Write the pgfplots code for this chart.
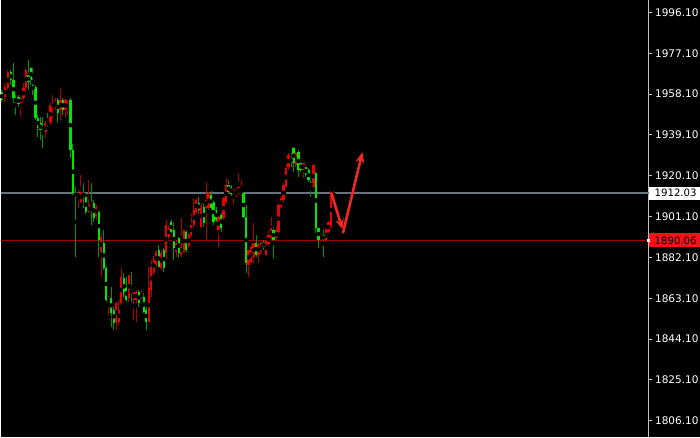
\documentclass[border=0pt]{standalone}
\usepackage{pgfplots}
\pgfplotsset{compat=1.18}
\usepackage{pgfplotstable}
\usepackage{fontspec}
\setmainfont{DejaVu Sans}
\usetikzlibrary{arrows.meta}
\definecolor{bodyG}{RGB}{0,230,0}
\definecolor{wickG}{RGB}{0,150,0}
\definecolor{bodyR}{RGB}{235,0,0}
\definecolor{wickR}{RGB}{175,0,0}
\definecolor{gridgrey}{RGB}{105,115,125}
\definecolor{lvlred}{RGB}{160,0,0}
\definecolor{axgrey}{RGB}{195,195,195}
\definecolor{arrowred}{RGB}{240,40,35}
\definecolor{boxred}{RGB}{240,20,20}

\pgfplotstableread{
x o h l c
4 1956.6 1963.1 1954.3 1961.3
7 1960.8 1969.2 1959.9 1968.2
20 1951.5 1956.6 1947.3 1954.3
22.5 1956.2 1963.1 1955.2 1960.8
25 1960.8 1970.1 1958.9 1969.2
44.5 1940.4 1945.5 1937.6 1944.5
49.5 1944.5 1953.8 1943.6 1952.9
52 1951.5 1957.5 1946.9 1954.3
54.5 1952.9 1956.2 1950.6 1954.3
59.5 1950.6 1960.8 1945.9 1955.2
64.5 1950.6 1955.7 1946.9 1955.2
67 1951.5 1955.2 1948.3 1953.8
77.5 1909.7 1913.4 1905.1 1912.0
80 1907.8 1920.4 1907.4 1912.5
88 1903.2 1918.1 1902.7 1906.4
95.5 1901.3 1906.4 1899.5 1905.5
100.5 1884.6 1893.4 1873.0 1891.6
108 1861.4 1864.6 1855.4 1863.7
115.5 1852.1 1861.4 1848.4 1860.9
118 1852.1 1862.3 1850.7 1857.7
120.5 1860.9 1877.2 1860.0 1873.0
128 1863.3 1873.9 1861.4 1873.9
133 1862.3 1866.0 1853.0 1866.0
135.5 1862.3 1867.0 1852.1 1866.0
140.5 1863.7 1867.0 1862.3 1865.6
148 1852.1 1877.6 1852.1 1867.9
150.5 1867.0 1880.9 1863.7 1877.6
153 1874.9 1882.7 1873.9 1881.8
155.5 1878.6 1885.6 1877.6 1884.6
160.5 1877.2 1885.6 1876.3 1884.1
165.5 1884.1 1899.5 1880.9 1897.2
168 1891.6 1897.2 1890.2 1896.3
175.5 1884.6 1890.2 1882.3 1888.8
180.5 1883.2 1900.4 1882.3 1887.9
183 1884.6 1894.8 1884.1 1894.8
188 1887.4 1893.4 1886.5 1892.5
190.5 1892.5 1902.7 1891.6 1897.2
193 1897.2 1909.7 1895.8 1904.1
195.5 1903.2 1909.7 1902.3 1908.8
200.5 1896.3 1907.4 1895.8 1906.4
205.5 1905.5 1917.1 1890.2 1908.8
208 1905.1 1912.5 1904.1 1912.0
218 1894.8 1901.3 1886.9 1900.9
223 1900.4 1910.2 1899.5 1909.7
225.5 1907.8 1919.0 1906.9 1915.7
233 1911.1 1914.3 1906.4 1913.4
235.5 1911.1 1914.3 1910.2 1913.4
238 1912.0 1921.3 1911.1 1914.8
240.5 1911.1 1918.1 1910.6 1913.4
248 1878.6 1885.6 1873.0 1885.6
250.5 1880.0 1887.9 1879.5 1886.9
253 1882.3 1898.1 1879.5 1888.8
258 1883.2 1889.3 1879.5 1887.9
260.5 1884.6 1889.3 1883.7 1888.8
265.5 1883.2 1891.1 1882.7 1890.2
268 1888.3 1894.8 1887.4 1892.5
270.5 1891.1 1900.9 1890.2 1895.8
275.5 1891.1 1895.8 1890.2 1894.8
278 1893.9 1907.4 1893.4 1906.4
280.5 1905.5 1910.6 1905.1 1909.7
283 1908.8 1916.7 1907.4 1915.7
285.5 1915.2 1925.0 1914.3 1923.6
288 1924.1 1930.6 1922.7 1929.7
295.5 1925.0 1931.5 1924.1 1930.6
303 1922.7 1926.0 1919.0 1926.0
313 1914.8 1925.0 1914.3 1925.0
320.5 1890.2 1893.4 1889.3 1892.5
325.5 1890.2 1895.8 1889.3 1894.8
328 1893.9 1899.0 1893.4 1898.6
330.5 1895.8 1913.0 1895.3 1912.5
333 1910.2 1913.0 1909.7 1912.5
}\upT

\pgfplotstableread{
x o h l c
1 1958.9 1959.9 1954.3 1955.2
10 1968.2 1969.2 1962.2 1964.5
12.5 1964.5 1972.4 1953.8 1956.2
15 1956.2 1957.5 1948.3 1954.3
17.5 1956.6 1957.5 1952.0 1953.4
27.5 1966.8 1973.8 1959.9 1963.6
30 1970.1 1970.6 1962.2 1964.5
32 1962.2 1970.1 1957.5 1959.9
34.5 1961.3 1962.2 1945.9 1946.9
37 1946.9 1948.3 1938.0 1942.2
39.5 1944.5 1947.3 1936.6 1941.3
42 1941.3 1947.3 1932.9 1939.9
47 1945.0 1949.2 1942.7 1943.6
57 1955.2 1956.2 1945.0 1949.2
62 1955.2 1956.2 1948.3 1950.6
69.5 1955.2 1956.2 1928.3 1932.0
72 1932.0 1934.8 1911.1 1912.0
75 1912.5 1914.8 1882.3 1910.2
82.5 1912.0 1916.7 1905.1 1910.6
85 1910.2 1912.0 1902.3 1903.2
90.5 1905.5 1916.7 1897.2 1904.1
93 1907.4 1908.8 1898.6 1900.4
98 1903.2 1904.1 1882.3 1890.2
103 1888.8 1894.8 1876.3 1877.2
105.5 1877.2 1878.1 1861.4 1862.3
110.5 1863.3 1868.4 1849.8 1856.3
113 1857.7 1860.0 1848.4 1851.6
123 1872.5 1874.9 1863.7 1864.6
125.5 1868.4 1873.0 1861.4 1862.3
130.5 1867.0 1875.3 1861.4 1865.6
138 1866.0 1867.0 1859.1 1860.9
143 1863.7 1865.6 1856.3 1856.7
145.5 1857.7 1859.1 1848.4 1852.1
158 1885.6 1887.9 1877.6 1877.6
163 1885.6 1886.5 1875.3 1877.2
170.5 1898.6 1899.5 1893.4 1893.9
173 1894.8 1898.1 1880.9 1886.5
178 1891.1 1891.6 1881.8 1884.1
185.5 1893.9 1894.8 1884.6 1885.6
198 1907.4 1910.2 1902.7 1904.1
203 1905.5 1907.4 1896.3 1898.1
210.5 1911.1 1913.0 1904.1 1905.1
213 1907.8 1908.8 1897.2 1898.6
215.5 1904.1 1905.5 1898.6 1899.5
220.5 1901.8 1902.7 1893.9 1895.8
228 1915.7 1918.1 1912.0 1912.5
230.5 1914.8 1915.7 1910.6 1911.5
243 1912.0 1912.0 1900.4 1900.9
245.5 1900.9 1906.4 1874.9 1879.5
255.5 1888.8 1892.5 1882.3 1883.2
263 1889.3 1890.2 1885.6 1886.9
273 1894.8 1895.8 1881.8 1890.2
290.5 1928.3 1930.6 1924.1 1926.4
293 1932.9 1933.4 1921.8 1926.0
298 1931.1 1932.0 1919.5 1922.7
300.5 1926.0 1927.4 1921.8 1922.7
305.5 1924.1 1925.0 1919.5 1920.4
308 1922.7 1923.6 1917.1 1918.1
310.5 1917.1 1918.1 1910.2 1914.8
315.5 1921.3 1921.8 1893.4 1895.8
318 1895.8 1895.8 1886.5 1890.2
323 1892.5 1894.8 1882.3 1890.2
}\downT

\begin{document}
\begin{tikzpicture}[x=1pt,y=1pt]
\fill[black] (0,0) rectangle (700,437);
\begin{axis}[
  at={(0,0)}, anchor=south west,
  scale only axis, width=649pt, height=437pt,
  xmin=0, xmax=649, ymin=1798.68, ymax=2001.67,
  axis x line=none, axis y line=right,
  axis line style={-, draw=axgrey, line width=0.9pt},
  ytick={1806.1,1825.1,1844.1,1863.1,1882.1,1901.1,1920.1,1939.1,1958.1,1977.1,1996.1},
  yticklabels={1806.10,1825.10,1844.10,1863.10,1882.10,1901.10,1920.10,1939.10,1958.10,1977.10,1996.10},
  tick align=outside, major tick length=3pt,
  ytick style={draw=axgrey, line width=0.9pt},
  yticklabel style={font=\fontsize{10.5}{12}\selectfont, text=white, anchor=west, inner sep=0pt, xshift=3pt},
  clip mode=individual,
]
% horizontal levels
\addplot[gridgrey, line width=1.4pt] coordinates {(0,1912.03) (649,1912.03)};
\addplot[lvlred, line width=1.6pt] coordinates {(0,1890.06) (649,1890.06)};
% wicks
\addplot[only marks, mark=none, error bars/.cd, y dir=both, y explicit, error mark=none,
  error bar style={line width=1pt, draw=wickR}]
  table[x=x, y expr=(\thisrow{h}+\thisrow{l})/2, y error expr=(\thisrow{h}-\thisrow{l})/2] {\upT};
\addplot[only marks, mark=none, error bars/.cd, y dir=both, y explicit, error mark=none,
  error bar style={line width=1pt, draw=wickG}]
  table[x=x, y expr=(\thisrow{h}+\thisrow{l})/2, y error expr=(\thisrow{h}-\thisrow{l})/2] {\downT};
% bodies
\addplot[only marks, mark=none, error bars/.cd, y dir=both, y explicit, error mark=none,
  error bar style={line width=2.3pt, draw=bodyR}]
  table[x=x, y expr=(\thisrow{o}+\thisrow{c})/2, y error expr={max(abs(\thisrow{o}-\thisrow{c})/2,0.4)}] {\upT};
\addplot[only marks, mark=none, error bars/.cd, y dir=both, y explicit, error mark=none,
  error bar style={line width=2.3pt, draw=bodyG}]
  table[x=x, y expr=(\thisrow{o}+\thisrow{c})/2, y error expr={max(abs(\thisrow{o}-\thisrow{c})/2,0.4)}] {\downT};
% drawn arrows
\addplot[arrowred, line width=2.6pt, -{Stealth[length=10pt,width=8.5pt]}] coordinates {(331,1912.0) (342,1895.3)};
\addplot[arrowred, line width=2.6pt, -{Stealth[length=11pt,width=9pt]}] coordinates {(342.5,1893.4) (362,1931.1)};
\coordinate (g) at (axis cs:649,1912.03);
\coordinate (r) at (axis cs:649,1890.06);
\end{axis}
\node[anchor=west, fill=white, text=black, minimum height=13pt, text width=40pt, inner xsep=5.5pt, inner ysep=0pt, align=left, font=\fontsize{10.2}{12}\selectfont] at (g) {1912.03};
\node[anchor=west, fill=boxred, text=black, minimum height=14pt, text width=40pt, inner xsep=5.5pt, inner ysep=0pt, align=left, font=\fontsize{10.2}{12}\selectfont] at (r) {1890.06};
\fill[white] ([xshift=-2pt,yshift=-1.5pt]r) rectangle ([xshift=1pt,yshift=1.5pt]r);
\end{tikzpicture}
\end{document}
